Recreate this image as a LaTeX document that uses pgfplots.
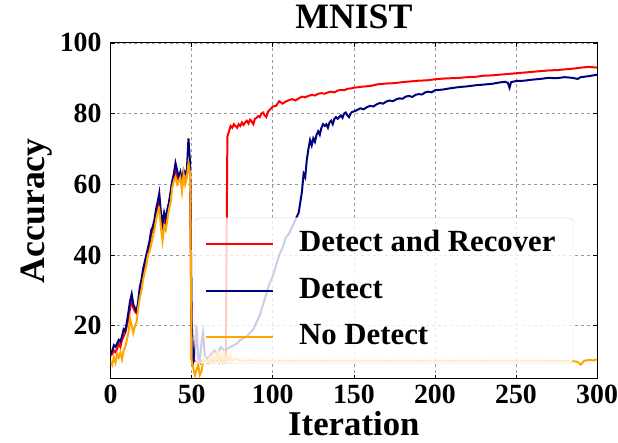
\documentclass[border=0pt]{standalone}
\usepackage{fontspec}
\setmainfont{Liberation Serif}
\usepackage{pgfplots}
\pgfplotsset{compat=1.18}
\usepackage{pgfplotstable}

\definecolor{mplred}{RGB}{255,0,0}
\definecolor{mplnavy}{RGB}{0,0,128}
\definecolor{mplorange}{RGB}{255,165,0}

\pgfplotstableread{
x y
0 11.5
1 12
2 13
3 12.5
4 13.5
5 15
6 14
7 16
8 17
9 18
10 20
11 22
12 25
13 27
14 25
15 24
16 23.5
17 26
18 30
19 32
20 35
21 37
22 38
23 41
24 43
25 46
26 47
27 49
28 52
29 54
30 55
31 51
32 47
33 50
34 49
35 52
36 54
37 57
38 60
39 62
40 64
41 62
42 61
43 62
44 60
45 63
46 61
47 62
48 66
49 64
50 10.5
52 10
54 10.3
56 10
58 10.2
60 10
62 10.1
64 10
66 10.2
68 10
70 10.1
71 10
72 73.5
73 75
74 76.5
75 76
76 77
77 76.5
78 76
79 77
80 76.5
81 77.5
82 76.8
83 77.5
84 78
85 77.2
86 78.3
87 77.8
88 77
89 78.5
90 78.8
91 79.3
92 79
93 80
94 80.3
95 79.5
96 79
97 80.5
98 81
99 81.5
100 82
102 82.2
104 83.5
106 82.8
108 83.4
110 83.8
112 84.1
114 83.7
116 84.3
118 84.8
120 84.6
122 85
124 85.3
126 85.1
128 85.6
130 85.8
132 85.6
134 86
136 86.2
138 86
140 86.5
142 86.7
144 86.6
146 87
148 87.1
150 87.3
155 87.6
160 87.8
165 88.3
170 88.5
175 88.6
180 88.9
185 89.1
190 89.3
195 89.4
200 89.7
205 89.9
210 90
215 90.1
220 90.3
225 90.4
230 90.7
235 90.8
240 91
245 91.2
250 91.4
255 91.6
260 91.8
265 92
270 92.2
275 92.3
280 92.5
285 92.7
290 93
295 93.2
300 93
}\recover

\pgfplotstableread{
x y
0 12
1 13
2 14.5
3 14
4 15
5 16
6 15.5
7 17
8 19
9 18.5
10 21
11 24
12 27
13 29
14 26
15 25
16 24
17 27
18 31
19 33
20 36
21 38
22 40
23 42
24 44
25 47
26 48
27 50
28 53
29 55
30 57.5
31 52
32 49
33 52
34 50
35 53
36 55
37 58
38 61
39 63
40 66
41 64
42 62
43 63.5
44 61
45 64
46 63
47 64
48 73
49 66
50 21
51 10
52 12
53 20
54 11
55 10
56 15
57 18
58 12
59 10.5
60 11
62 12
64 13
66 12
68 14
70 13
72 13.5
74 14
76 14.5
78 15
80 16
82 16.5
84 17
86 18
88 19
90 21
92 23
94 26
96 29
98 32
100 34
102 37
104 40
106 42
108 45
110 46
112 48
114 50
116 52
117 55
118 58
119 63
120 62
121 67
122 70
123 72.5
124 71
125 73
126 72
127 74
128 75
129 74
130 76
131 77
132 76.5
133 77
134 76
135 77.5
136 78
137 77
138 78.5
139 79
140 78.5
141 79
142 79.5
143 78.8
144 80
145 80.3
146 79.5
147 79
148 80
149 80.5
150 80.6
152 81
154 81.5
156 81.2
158 81.8
160 82.2
162 82
164 82.6
166 83
168 82.8
170 83.4
172 83.7
174 83.5
176 84
178 84.3
180 84.2
182 84.8
184 85
186 84.7
188 85.3
190 85.5
192 85.4
194 86
196 86.2
198 86
200 86.6
205 86.8
210 87.2
215 87.5
220 87.7
225 88
230 88.2
235 88.4
240 88.8
243 89
245 88.7
246 87.3
247 88.9
250 89.2
255 89.3
260 89.6
265 89.8
270 90.1
275 90
280 90.3
285 90.1
288 89.8
290 90.3
295 90.6
300 91
}\detect

\pgfplotstableread{
x y
0 10
1 9
2 11
3 9.5
4 12
5 11
6 12.5
7 10.5
8 13
9 14
10 16
11 18
12 22
13 20
14 18
15 20
16 21
17 25
18 28
19 30
20 33
21 35
22 37
23 40
24 41
25 43
26 45
27 47
28 50
29 52
30 53
31 48
32 44
33 48
34 47
35 50
36 53
37 55
38 59
39 61
40 62
41 60
42 61
43 62
44 58
45 63
46 60
47 62
48 66
49 63
50 10
51 8
52 6
53 7.5
54 9
55 6
56 7
57 10
58 11
59 10
60 9.5
61 11
62 10
63 12
64 10
65 11
66 13
67 10
68 11.5
69 10
70 12.5
71 10
72 11
73 10
74 11.5
75 10
76 10.3
78 10.8
80 10
82 10.2
84 10
86 10.4
88 10
90 10.2
95 10
100 10.1
110 10
120 10.1
130 10
140 10.1
150 10
160 10.1
170 10
180 10.1
190 10
200 10.1
210 10
220 10.1
230 10
240 10.1
250 10
260 10.1
270 10
280 10
285 10
288 9.8
290 9
291 9.5
292 10.1
295 10.3
298 10.2
300 10.5
}\nodetect

\begin{document}
\begin{tikzpicture}
\begin{axis}[
    name=ax,
    scale only axis,
    width=488bp, height=337bp,
    xmin=0, xmax=300, ymin=5, ymax=100,
    xtick={0,50,...,300},
    ytick={20,40,60,80,100},
    tick align=inside,
    major tick length=4bp,
    tick style={black, line width=0.6pt},
    axis line style={black, line width=0.8pt},
    grid=major,
    grid style={dashed, gray!80, line width=0.6pt},
    /pgf/number format/assume math mode=true,
    tick label style={font=\fontsize{28}{28}\selectfont\bfseries},
    xticklabel style={anchor=base, inner sep=0pt, yshift=-25bp},
    yticklabel style={anchor=east, inner sep=0pt, xshift=-9bp},
    title={MNIST},
    title style={at={(axis description cs:0.5,1.0237)}, anchor=base, inner sep=0pt,
                 font=\fontsize{36}{36}\selectfont\bfseries},
    xlabel={Iteration},
    xlabel style={at={(axis description cs:0.5,-0.1692)}, anchor=base, inner sep=0pt,
                  font=\fontsize{35}{35}\selectfont\bfseries},
    ylabel={Accuracy},
    ylabel style={at={(axis description cs:-0.1352,0.5)}, anchor=base, inner sep=0pt,
                  rotate=0, font=\fontsize{36}{36}\selectfont\bfseries},
    legend cell align=left,
    legend image code/.code={\draw[#1, line width=2bp] (0bp,0bp) -- (67bp,0bp);
                             \path (85bp,0bp);},
    legend style={at={(axis description cs:0.951,0.045)}, anchor=south east,
                  fill=white, fill opacity=0.8, text opacity=1, draw=gray!30,
                  rounded corners=4bp, inner xsep=10.5bp, inner ysep=8bp,
                  row sep=9.5bp,
                  font=\fontsize{31}{31}\selectfont\bfseries,
                  nodes={inner xsep=7bp, inner ysep=4bp, text height=22bp, text depth=7bp}},
]
\addplot[mplred, line width=2bp] table[x=x, y=y] {\recover};
\addlegendentry{Detect and Recover}
\addplot[mplnavy, line width=2bp] table[x=x, y=y] {\detect};
\addlegendentry{Detect}
\addplot[mplorange, line width=2bp] table[x=x, y=y] {\nodetect};
\addlegendentry{No Detect}
\end{axis}
\pgfresetboundingbox
\path[use as bounding box] ([shift={(-111bp,-64bp)}]ax.south west) rectangle ([shift={(21bp,43bp)}]ax.north east);
\end{tikzpicture}
\end{document}
